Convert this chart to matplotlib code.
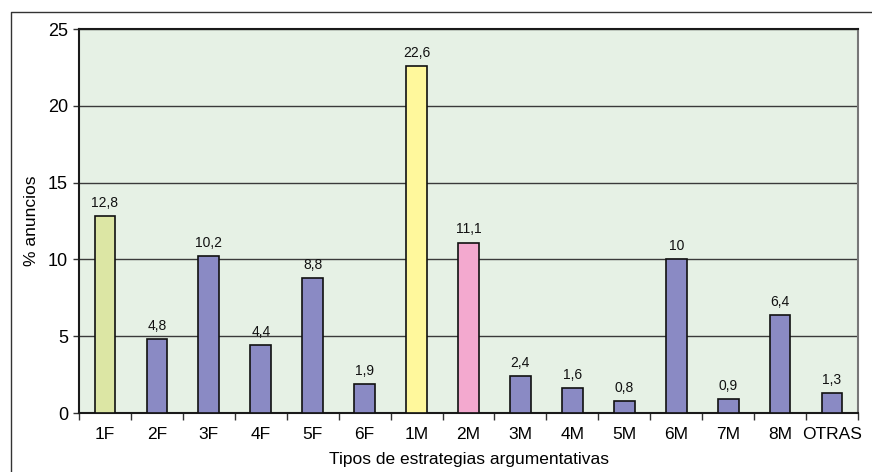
import matplotlib
matplotlib.use("Agg")
import matplotlib.pyplot as plt
from matplotlib.lines import Line2D

plt.rcParams['font.family'] = ['Liberation Sans', 'DejaVu Sans']

categories = ["1F", "2F", "3F", "4F", "5F", "6F", "1M", "2M", "3M", "4M", "5M", "6M", "7M", "8M", "OTRAS"]
values = [12.8, 4.8, 10.2, 4.4, 8.8, 1.9, 22.6, 11.1, 2.4, 1.6, 0.8, 10, 0.9, 6.4, 1.3]
value_labels = ["12,8", "4,8", "10,2", "4,4", "8,8", "1,9", "22,6", "11,1", "2,4", "1,6", "0,8", "10", "0,9", "6,4", "1,3"]
yticks = [0, 5, 10, 15, 20, 25]

default_color = "#8A8AC4"
highlight = {"1F": "#DCE6A4", "1M": "#FFF89C", "2M": "#F3A9CF"}
colors = [highlight.get(c, default_color) for c in categories]

W, H = 872, 472
fig = plt.figure(figsize=(W / 100, H / 100), dpi=100)
fig.patch.set_facecolor("white")

# outer frame (left and top edges)
fig.add_artist(Line2D([10.5 / W, 10.5 / W, 1.0], [0.0, 1 - 12 / H, 1 - 12 / H],
                      transform=fig.transFigure, color="#333333", lw=1.0))

left, right, top, bottom = 79, 858, 29, 413
ax = fig.add_axes([left / W, 1 - bottom / H, (right - left) / W, (bottom - top) / H])
ax.set_facecolor("#E6F1E5")

x = range(len(categories))
ax.bar(x, values, width=0.4, color=colors, edgecolor="#111111", linewidth=1.2, zorder=3)

for xi, v, lab in zip(x, values, value_labels):
    ax.text(xi, v + 0.4, lab, ha="center", va="bottom", fontsize=10, color="#111111", zorder=4)

ax.set_xlim(-0.5, len(categories) - 0.5)
ax.set_ylim(0, 25)
ax.set_yticks(yticks)
ax.set_yticklabels([str(t) for t in yticks], fontsize=13)
ax.yaxis.grid(True, color="#3a3a3a", linewidth=1.0, zorder=1)
ax.set_axisbelow(True)

ax.set_xticks(list(x))
ax.set_xticklabels(categories, fontsize=12.5)
ax.tick_params(axis="x", length=0, pad=10)
ax.set_xticks([i + 0.5 for i in range(-1, len(categories))], minor=True)
ax.tick_params(axis="x", which="minor", length=5, width=1, color="#333333", direction="out")
ax.tick_params(axis="y", length=4, width=1, color="#333333", direction="out", pad=4)

for side in ["left", "bottom", "top"]:
    ax.spines[side].set_color("#1a1a1a")
    ax.spines[side].set_linewidth(1.5)
ax.spines["right"].set_color("#777777")
ax.spines["right"].set_linewidth(1.5)

ax.set_ylabel("% anuncios", fontsize=12.5, labelpad=6)
ax.set_xlabel("Tipos de estrategias argumentativas", fontsize=12.5, labelpad=7)

fig.savefig("out.png", dpi=100)
